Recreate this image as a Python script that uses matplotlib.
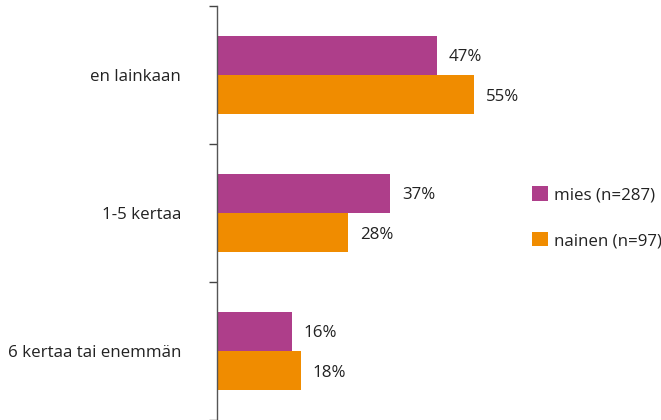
import numpy as np
import matplotlib
matplotlib.use('Agg')
import matplotlib.pyplot as plt
from matplotlib.patches import Patch

# Data
categories = ['en lainkaan', '1-5 kertaa', '6 kertaa tai enemmän']
mies = [47, 37, 16]
nainen = [55, 28, 18]
series_names = ['mies (n=287)', 'nainen (n=97)']
colors = ['#AE3E8A', '#F08C00']

plt.rcParams['font.family'] = ['Open Sans', 'DejaVu Sans']
FS = 12.2

fig = plt.figure(figsize=(6.61, 4.20), dpi=100)
# axes from x=217px, y from 6px to 420px
ax = fig.add_axes([217 / 661, 0.0, 300 / 661, 414 / 420])

n = len(categories)
y = np.arange(n)
h = 0.283

ax.barh(y - h / 2, mies, height=h, color=colors[0])
ax.barh(y + h / 2, nainen, height=h, color=colors[1])

for i in range(n):
    ax.text(mies[i] + 2.5, y[i] - h / 2, f'{mies[i]}%', va='center_baseline', ha='left',
            fontsize=FS, color='#222222')
    ax.text(nainen[i] + 2.5, y[i] + h / 2, f'{nainen[i]}%', va='center_baseline', ha='left',
            fontsize=FS, color='#222222')

ax.set_ylim(n - 0.5, -0.5)
ax.set_xlim(0, 300 / 4.68)

# tick marks at category boundaries, labels at centers
ax.set_yticks(np.arange(n + 1) - 0.5)
ax.set_yticklabels([])
ax.tick_params(axis='y', which='major', length=6, width=1, color='#444444', direction='out')
ax.set_yticks(y, minor=True)
ax.set_yticklabels(categories, minor=True, fontsize=FS, color='#222222')
ax.tick_params(axis='y', which='minor', length=0, pad=26)

ax.set_xticks([])
for s in ['top', 'right', 'bottom']:
    ax.spines[s].set_visible(False)
ax.spines['left'].set_color('#555555')
ax.spines['left'].set_linewidth(1)

handles = [Patch(facecolor=c, label=l) for c, l in zip(colors, series_names)]
fig.legend(handles=handles, loc='upper left', bbox_to_anchor=(524 / 661, 1 - 178 / 420),
           frameon=False, fontsize=FS, handlelength=0.9, handleheight=0.9,
           handletextpad=0.35, labelspacing=1.71, borderpad=0, labelcolor='#222222')

fig.savefig('out.png', dpi=100)
